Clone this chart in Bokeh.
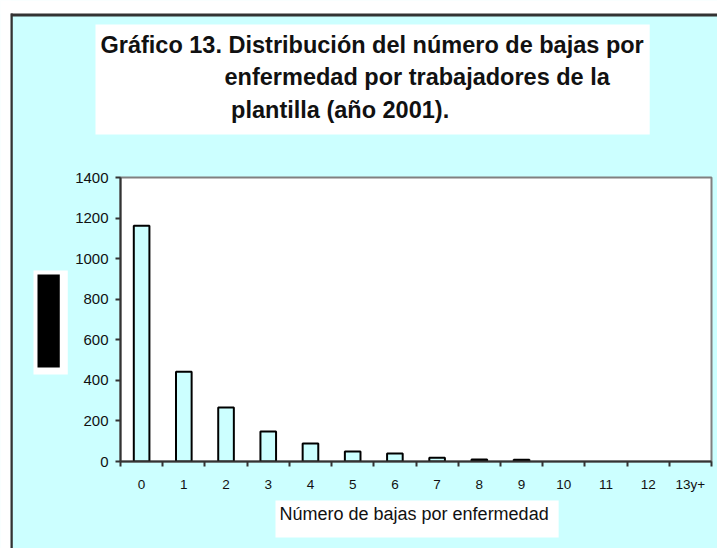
from bokeh.plotting import figure
from bokeh.models import (ColumnDataSource, Range1d, FixedTicker, Label)
from bokeh.embed import file_html
from bokeh.resources import INLINE

# ---- data ----
categories = ["0", "1", "2", "3", "4", "5", "6", "7", "8", "9", "10", "11", "12", "13y+"]
bajas = [1162, 443, 266, 148, 89, 49, 39, 19, 10, 9, 0, 0, 0, 0]
y_ticks = [0, 200, 400, 600, 800, 1000, 1200, 1400]
title_lines = ["Gráfico 13. Distribución del número de bajas por",
               "enfermedad por trabajadores de la",
               "plantilla (año 2001)."]
x_title = "Número de bajas por enfermedad"

CYAN = "#CCFFFF"
W, H = 717, 548
FL, FT, FR, FB = 120, 177, 711, 461      # frame edges in page pixels
YMAX = 1400
NCAT = len(categories)

centers = [i + 0.5 for i in range(NCAT)]
src = ColumnDataSource(dict(
    x=centers, n=bajas,
    lc=["black" if v > 0 else None for v in bajas],
))

p = figure(width=W, height=H, x_range=Range1d(0, NCAT), y_range=Range1d(0, YMAX),
           output_backend="svg", toolbar_location=None,
           min_border_left=FL, min_border_top=FT, min_border_right=W - FR, min_border_bottom=H - FB,
           background_fill_color="white", border_fill_color=CYAN,
           outline_line_color="#808080", outline_line_width=2)
p.xgrid.visible = False
p.ygrid.visible = False

p.vbar(x="x", top="n", width=0.37, source=src, fill_color=CYAN,
       line_color="lc", line_width=2)

# x axis: labels centred on categories, tick marks on boundaries
p.xaxis.ticker = FixedTicker(ticks=centers, minor_ticks=list(range(NCAT + 1)))
p.xaxis.major_label_overrides = {c: lab for c, lab in zip(centers, categories)}
p.xaxis.major_tick_out = 0
p.xaxis.major_tick_in = 0
p.xaxis.minor_tick_out = 5
p.xaxis.minor_tick_in = 0
p.xaxis.minor_tick_line_color = "#333333"
p.xaxis.minor_tick_line_width = 2
p.xaxis.major_label_standoff = 10
p.xaxis.major_label_text_font = "Liberation Sans"
p.xaxis.major_label_text_font_size = "13.5px"
p.xaxis.major_label_text_color = "#111111"

p.yaxis.ticker = FixedTicker(ticks=y_ticks)
p.yaxis.major_tick_out = 5
p.yaxis.major_tick_in = 0
p.yaxis.minor_tick_out = 0
p.yaxis.minor_tick_in = 0
p.yaxis.major_tick_line_width = 2
p.yaxis.major_tick_line_color = "#333333"
p.yaxis.major_label_standoff = 7
p.yaxis.major_label_text_font = "Liberation Sans"
p.yaxis.major_label_text_font_size = "15px"
p.yaxis.major_label_text_color = "#111111"

for ax in (p.xaxis, p.yaxis):
    ax.axis_line_color = "#333333"
    ax.axis_line_width = 2


# ---- decorations outside the frame: labels living in side panels,
#      positioned in canvas pixels (origin top-left).  Each label's size adds to
#      its panel, so wide-and-short items go above/below, tall-and-narrow go left.
def box(l, t, r, b, color, side):
    p.add_layout(Label(x=l, y=t, x_units="canvas", y_units="canvas", text=" ",
                       text_font_size="1px", text_align="left", text_baseline="top",
                       background_fill_color=color, background_fill_alpha=1,
                       border_line_color=None,
                       padding=(0, int(round(r - l)), 0, int(round(b - t)))), side)


# outer frame of the chart area (white margin + dark border line)
box(0, 0, 717, 13, "white", "above")
box(10, 13, 717, 15, "#333333", "above")
box(0, 0, 10, 548, "white", "left")
box(10, 13, 12, 548, "#333333", "left")
# y-axis title box (rendered as a black block in the reference)
box(33, 270, 67, 373, "white", "left")
box(37, 274, 59, 366, "black", "left")

# chart title: one multi-line label whose white background is the title box
indent2 = "\u00a0" * 19
indent3 = "\u00a0" * 20
title_text = "\n".join([title_lines[0], indent2 + title_lines[1], indent3 + title_lines[2]])
p.add_layout(Label(x=95, y=24, x_units="canvas", y_units="canvas", text=title_text,
                   text_font="Liberation Sans", text_font_style="bold",
                   text_font_size="23.5px", text_color="#111111", text_line_height=1.25,
                   text_align="left", text_baseline="top",
                   background_fill_color="white", border_line_color=None,
                   padding=(5, 6, 7, 12)), "above")

# x-axis title with its white box
p.add_layout(Label(x=275, y=500, x_units="canvas", y_units="canvas", text=x_title,
                   text_font="Liberation Sans", text_font_size="18px", text_color="#111111",
                   text_align="left", text_baseline="top",
                   background_fill_color="white", border_line_color=None,
                   padding=(4, 10, 3, 14)), "below")

open("out.html", "w").write(file_html(p, INLINE))
